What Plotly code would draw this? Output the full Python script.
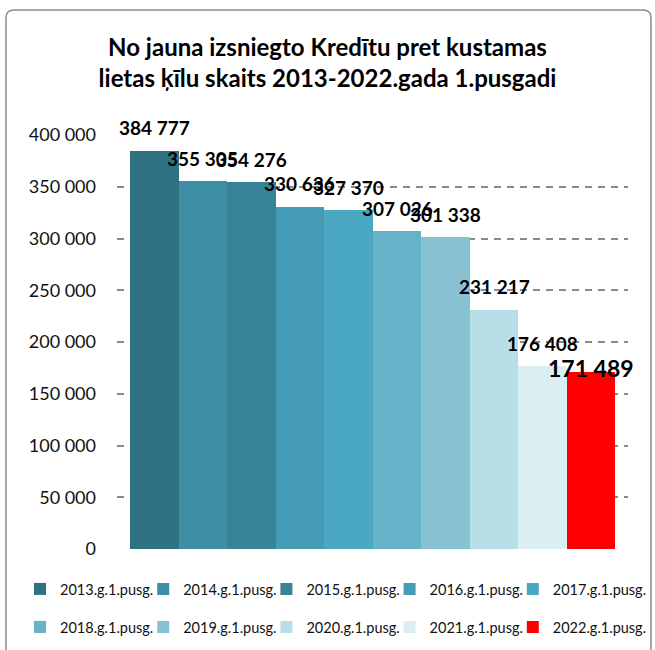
import plotly.graph_objects as go

categories = ["2013.g.1.pusg.", "2014.g.1.pusg.", "2015.g.1.pusg.", "2016.g.1.pusg.", "2017.g.1.pusg.",
              "2018.g.1.pusg.", "2019.g.1.pusg.", "2020.g.1.pusg.", "2021.g.1.pusg.", "2022.g.1.pusg."]
values = [384777, 355305, 354276, 330636, 327370, 307026, 301338, 231217, 176408, 171489]
value_labels = ["384 777", "355 305", "354 276", "330 636", "327 370",
                "307 026", "301 338", "231 217", "176 408", "171 489"]
colors = ["#2F7282", "#3E8FA6", "#378496", "#449CB6", "#4AA8C2",
          "#66B2C9", "#88C1D2", "#B8DEE8", "#DAEEF4", "#FF0000"]
y_ticks = [0, 50000, 100000, 150000, 200000, 250000, 300000, 350000, 400000]
y_tick_labels = ["0", "50 000", "100 000", "150 000", "200 000", "250 000", "300 000", "350 000", "400 000"]

FONT = "Lato"
W, H = 655, 650
ML, MR, MT, MB = 117, 27, 135, 101
PW, PH = W - ML - MR, H - MT - MB


def px_x(p):
    return (p - ML) / PW


def px_y(p):
    return (H - MB - p) / PH


def legend_key(i):
    return "legend" if i == 0 else "legend%d" % (i + 1)


fig = go.Figure()
for i, (c, v, col) in enumerate(zip(categories, values, colors)):
    fig.add_trace(go.Bar(
        x=[c], y=[v], name=c, marker=dict(color=col, line=dict(width=0)),
        legend=legend_key(i),
        hoverinfo="x+y",
    ))

annotations = []
for i, (c, v, lab) in enumerate(zip(categories, values, value_labels)):
    big = (i == len(categories) - 1)
    annotations.append(dict(
        x=c, y=v, xref="x", yref="y", text="<b>%s</b>" % lab, showarrow=False,
        yanchor="middle", xanchor="center", yshift=4 if big else 23,
        font=dict(family=FONT, size=23 if big else 19, color="#000000"),
    ))

# rounded outer border
x0, x1 = px_x(6), px_x(651)
y0, y1 = px_y(10), px_y(668)
rx, ry = 8 / PW, 8 / PH
path = (f"M{x0 + rx},{y0} L{x1 - rx},{y0} Q{x1},{y0} {x1},{y0 - ry} "
        f"L{x1},{y1 + ry} Q{x1},{y1} {x1 - rx},{y1} L{x0 + rx},{y1} Q{x0},{y1} {x0},{y1 + ry} "
        f"L{x0},{y0 - ry} Q{x0},{y0} {x0 + rx},{y0} Z")

legend_common = dict(
    orientation="h", xref="paper", yref="paper",
    xanchor="left", yanchor="top",
    font=dict(family=FONT, size=14.5, color="#111111"),
    itemwidth=30, bgcolor="rgba(0,0,0,0)",
)

legends = {}
for i in range(len(categories)):
    col_idx = i % 5
    row_idx = i // 5
    lx = 20 + col_idx * 123.2
    ly = 573 if row_idx == 0 else 611
    legends[legend_key(i)] = dict(legend_common, x=px_x(lx), y=px_y(ly))

fig.update_layout(
    width=W, height=H,
    margin=dict(l=ML, r=MR, t=MT, b=MB, autoexpand=False),
    paper_bgcolor="white", plot_bgcolor="white",
    barmode="overlay", bargap=0,
    font=dict(family=FONT, color="#000000"),
    title=dict(
        text="<b>No jauna izsniegto Kredītu pret kustamas<br>lietas ķīlu skaits 2013-2022.gada 1.pusgadi</b>",
        x=0.5, xanchor="center", y=1 - 56 / H, yanchor="middle",
        font=dict(family=FONT, size=24, color="#000000"),
    ),
    xaxis=dict(
        type="category", categoryorder="array", categoryarray=categories,
        range=[-0.77, 9.76], showticklabels=False, showgrid=False,
        zeroline=False, showline=False, ticks="",
    ),
    yaxis=dict(
        range=[0, 400000], tickvals=y_ticks, ticktext=y_tick_labels,
        showgrid=True, gridcolor="#8A8A8A", gridwidth=2, griddash="7px,6px",
        zeroline=False, showline=False, ticks="",
        ticklabelstandoff=20,
        tickfont=dict(family=FONT, size=18, color="#111111"),
    ),
    annotations=annotations,
    shapes=[dict(type="path", path=path, xref="paper", yref="paper",
                 line=dict(color="#8C8C8C", width=1.5), fillcolor="rgba(0,0,0,0)", layer="above")],
    showlegend=True,
    **legends,
)

fig.write_html("out.html", post_script="document.body.style.margin='0';",
               config={"displayModeBar": False})
